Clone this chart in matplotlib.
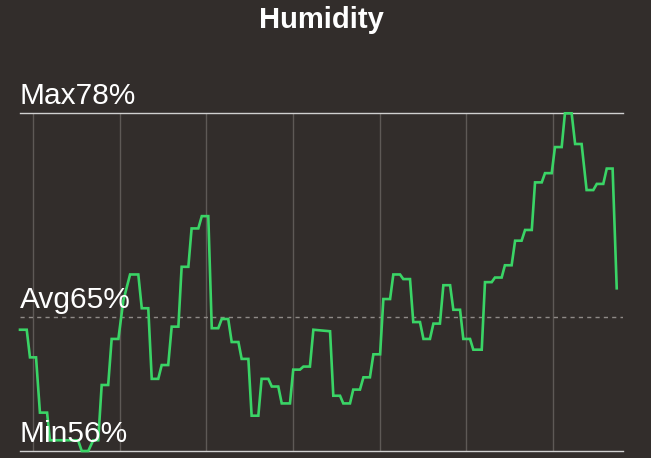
import numpy as np
import matplotlib
matplotlib.use("Agg")
import matplotlib.pyplot as plt

# humidity readings (hours since start, %)
hours = [0.00, 0.31, 0.46, 0.74, 0.92, 1.25, 1.38, 2.31, 2.68, 2.85, 3.15, 3.38, 3.61,
         3.77, 4.07, 4.23, 4.54, 4.77, 5.08, 5.46, 5.62, 5.92, 6.08, 6.38, 6.54, 6.84,
         7.00, 7.31, 7.46, 7.77, 7.92, 8.23, 8.39, 8.69, 8.85, 9.15, 9.31, 9.61, 9.77,
         10.08, 10.23, 10.54, 10.69, 11.00, 11.15, 11.46, 11.62, 11.92, 12.08, 12.46,
         12.61, 12.92, 13.08, 13.38, 13.54, 14.31, 14.46, 14.77, 14.92, 15.23, 15.38,
         15.69, 15.85, 16.15, 16.31, 16.62, 16.77, 17.08, 17.23, 17.54, 17.69, 18.00,
         18.15, 18.46, 18.62, 18.92, 19.08, 19.38, 19.54, 19.85, 20.00, 20.31, 20.46,
         20.77, 20.92, 21.31, 21.46, 21.77, 21.92, 22.23, 22.38, 22.69, 22.85, 23.15,
         23.31, 23.62, 23.77, 24.08, 24.23, 24.54, 24.69, 25.00, 25.15, 25.46, 25.62,
         25.92, 26.15, 26.46, 26.62, 26.92, 27.08, 27.35, 27.54]
humidity = [63.9, 63.9, 62.1, 62.1, 58.5, 58.5, 56.7, 56.7, 56.7, 56.0, 56.0, 56.7, 56.7,
            60.3, 60.3, 63.3, 63.3, 65.8, 67.5, 67.5, 65.3, 65.3, 60.7, 60.7, 61.6, 61.6,
            64.1, 64.1, 68.0, 68.0, 70.5, 70.5, 71.3, 71.3, 64.0, 64.0, 64.6, 64.6, 63.1,
            63.1, 62.0, 62.0, 58.3, 58.3, 60.7, 60.7, 60.2, 60.2, 59.1, 59.1,
            61.3, 61.3, 61.5, 61.5, 63.9, 63.8, 59.6, 59.6, 59.1, 59.1, 60.0,
            60.0, 60.8, 60.8, 62.3, 62.3, 65.9, 65.9, 67.5, 67.5, 67.2, 67.2,
            64.4, 64.4, 63.3, 63.3, 64.3, 64.3, 66.8, 66.8, 65.2, 65.2, 63.3,
            63.3, 62.6, 62.6, 67.0, 67.0, 67.3, 67.3, 68.1, 68.1, 69.7, 69.7,
            70.4, 70.4, 73.5, 73.5, 74.1, 74.1, 75.8, 75.8, 78.0, 78.0, 76.0,
            76.0, 73.0, 73.0, 73.4, 73.4, 74.4, 74.4, 66.6]
hum_max = 78
hum_avg = 64.75
hum_min = 56
grid_hours = [0.6, 4.6, 8.6, 12.6, 16.6, 20.6, 24.6]

bg = '#322d2b'
fig = plt.figure(figsize=(6.51, 4.58), dpi=100, facecolor=bg)
ax = fig.add_axes([20/651, 7/458, 603/651, 337.7/458])
ax.set_facecolor(bg)
ax.set_xlim(0, 27.83)
ax.set_ylim(hum_min, hum_max)
for s in ax.spines.values():
    s.set_visible(False)
ax.set_xticks([])
ax.set_yticks([])

for g in grid_hours:
    ax.axvline(g, color='#5e5956', lw=1)
ax.axhline(hum_max, color='#d0d0d0', lw=1, clip_on=False)
ax.axhline(hum_min, color='#d0d0d0', lw=1, clip_on=False)
ax.axhline(hum_avg, color='#8f8a87', lw=1, ls=(0, (3, 3)))

ax.plot(hours, humidity, color='#3ad466', lw=1.9, clip_on=False, solid_joinstyle='miter')

lab = dict(color='white', fontsize=21.5, family=['Liberation Sans', 'DejaVu Sans'],
           ha='left', va='baseline', textcoords='offset points', xytext=(0, 6.5))
ax.annotate(f'Max{hum_max}%', (0, hum_max), **lab)
ax.annotate(f'Avg{round(hum_avg)}%', (0, hum_avg), **lab)
ax.annotate(f'Min{hum_min}%', (0, hum_min), **lab)

fig.text(321/651, 1 - 28/458, 'Humidity', color='white', fontsize=21, fontweight='bold',
         family=['Liberation Sans', 'DejaVu Sans'], ha='center', va='baseline')

fig.savefig('out.png', dpi=100, facecolor=bg)
